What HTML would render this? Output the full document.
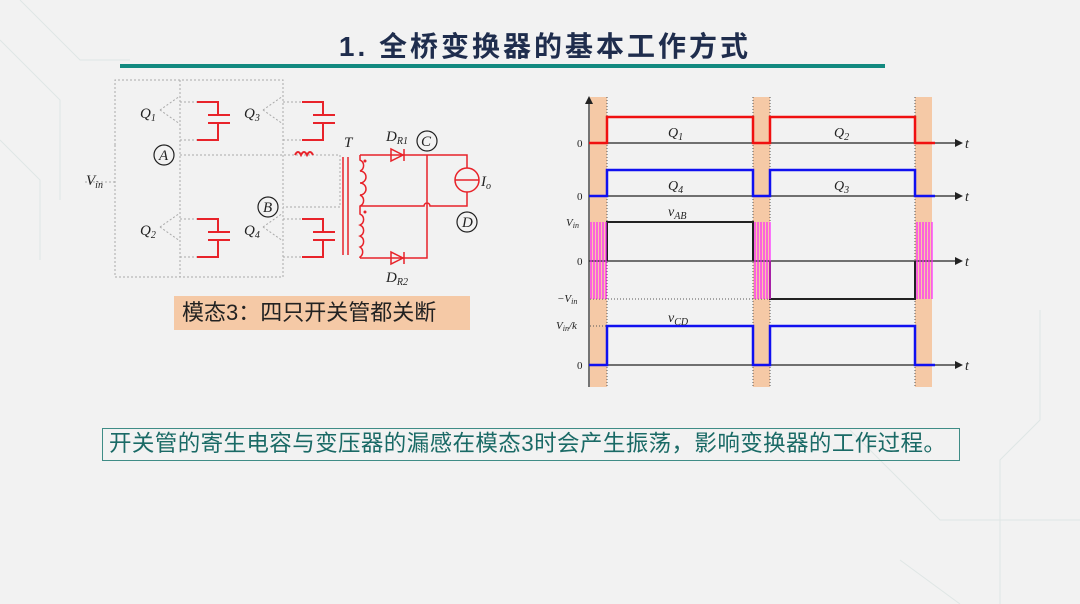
<!DOCTYPE html>
<html><head><meta charset="utf-8"><style>
html,body{margin:0;padding:0;}
body{width:1080px;height:604px;background:#f2f2f2;position:relative;overflow:hidden;font-family:"Liberation Sans","Noto Sans CJK SC",sans-serif;}
.title{position:absolute;left:120px;width:850px;top:28px;text-align:center;font-size:28px;font-weight:bold;color:#1f2d4d;letter-spacing:3px;line-height:38px;}
.tline{position:absolute;left:120px;top:64px;width:765px;height:4px;background:#138a80;}
.lbl{position:absolute;left:174px;top:296px;width:296px;height:34px;background:#f5c9a6;font-size:22px;color:#222;line-height:34px;padding-left:8px;box-sizing:border-box;}
.box{position:absolute;left:102px;top:428px;width:858px;height:33px;border:1px solid #3f8c86;box-sizing:border-box;font-size:22.5px;color:#1a6a66;line-height:30px;padding-left:6px;white-space:nowrap;letter-spacing:0.4px;}
svg{position:absolute;left:0;top:0;}
</style></head><body>
<div class="title">1. 全桥变换器的基本工作方式</div>
<div class="tline"></div>
<svg width="1080" height="604" font-family="Liberation Serif, serif" font-style="italic">
<g stroke="#dfe6e5" stroke-width="1" fill="none">
<path d="M0 40 L60 100 L60 200"/><path d="M20 0 L80 60 L130 60"/><path d="M0 140 L40 180 L40 260"/>
<path d="M1040 310 L1040 420 L1000 460 L1000 604"/><path d="M850 430 L940 520 L1080 520"/><path d="M900 560 L960 604"/>
</g>
<g stroke="#aaa" stroke-width="1" stroke-dasharray="2,2" fill="none">
<path d="M115 145 L115 277 L283 277 L283 145 L283 80 L115 80 Z"/>
<path d="M180 80 L180 277"/>
<path d="M180 155 L340 155 L340 207 L283 207"/>
<path d="M180 102 L197 102 M180 140 L197 140 M283 102 L302 102 M283 140 L302 140"/>
<path d="M180 219 L197 219 M180 257 L197 257 M283 219 L302 219 M283 257 L302 257"/>
<path d="M85 182 L115 182"/>
<path d="M160 110 L180 96 M160 110 L180 124 M263 110 L283 96 M263 110 L283 124 M160 227 L180 213 M160 227 L180 241 M263 227 L283 213 M263 227 L283 241"/>
</g>
<g stroke="#e8232a" stroke-width="2" fill="none">
<path id="cap" d="M197 102 L218 102 L218 115 M208 115 L230 115 M208 123 L230 123 M218 123 L218 140 L197 140"/>
<use href="#cap" x="105"/><use href="#cap" y="117"/><use href="#cap" x="105" y="117"/>
<path d="M295 155 q3 -6 6 0 q3 -6 6 0 q3 -6 6 0"/>
<line x1="343" y1="157" x2="343" y2="255" stroke-width="1.5"/><line x1="348" y1="157" x2="348" y2="255" stroke-width="1.5"/>
<path d="M360 155 L360 160 a6 6 0 0 1 0 11 a6 6 0 0 1 0 12 a6 6 0 0 1 0 12 a6 6 0 0 1 0 11 L360 214 a6 6 0 0 1 0 11 a6 6 0 0 1 0 11 a6 6 0 0 1 0 11 a6 6 0 0 1 0 10 L360 258" stroke-width="1.5"/>
<path d="M360 155 L467 155 L467 168 M467 192 L467 206 L430 206 a3 3 0 0 0 -6 0 L360 206 M360 258 L427 258 L427 155" stroke-width="1.5"/>
<circle cx="467" cy="180" r="12" stroke-width="1.5"/><line x1="455" y1="180" x2="479" y2="180" stroke-width="1.5"/>
<path d="M391 149 L391 161 L403 155 Z M404 149 L404 161" stroke-width="1.5"/>
<path d="M391 252 L391 264 L403 258 Z M404 252 L404 264" stroke-width="1.5"/>
</g>
<circle cx="365" cy="161" r="1.5" fill="#e8232a"/><circle cx="365" cy="212" r="1.5" fill="#e8232a"/>
<g fill="none" stroke="#222" stroke-width="1.2">
<circle cx="164" cy="155" r="10"/><circle cx="268" cy="207" r="10"/><circle cx="427" cy="141" r="10"/><circle cx="467" cy="222" r="10"/>
</g>
<g font-size="15" fill="#222">
<text x="159" y="160">A</text><text x="263" y="212">B</text><text x="421" y="146">C</text><text x="462" y="227">D</text>
<text x="140" y="118">Q<tspan font-size="10" dy="3">1</tspan></text>
<text x="244" y="118">Q<tspan font-size="10" dy="3">3</tspan></text>
<text x="140" y="235">Q<tspan font-size="10" dy="3">2</tspan></text>
<text x="244" y="235">Q<tspan font-size="10" dy="3">4</tspan></text>
<text x="86" y="185">V<tspan font-size="10" dy="3">in</tspan></text>
<text x="344" y="147">T</text>
<text x="386" y="141">D<tspan font-size="10" dy="3">R1</tspan></text>
<text x="386" y="282">D<tspan font-size="10" dy="3">R2</tspan></text>
<text x="481" y="186">I<tspan font-size="10" dy="3">o</tspan></text>
</g>
<g fill="#f5c9a6"><rect x="590" y="97" width="17" height="290"/><rect x="753" y="97" width="17" height="290"/><rect x="915" y="97" width="17" height="290"/></g>
<g stroke="#555" stroke-width="1" stroke-dasharray="1,2"><line x1="607" y1="97" x2="607" y2="387"/><line x1="753" y1="97" x2="753" y2="387"/><line x1="770" y1="97" x2="770" y2="387"/><line x1="915" y1="97" x2="915" y2="387"/>
<line x1="590" y1="299" x2="770" y2="299"/><line x1="590" y1="326" x2="607" y2="326"/></g>
<g stroke="#222" stroke-width="1.2"><line x1="589" y1="100" x2="589" y2="387"/>
<line x1="589" y1="143" x2="955" y2="143"/><line x1="589" y1="196" x2="955" y2="196"/><line x1="589" y1="261" x2="955" y2="261"/><line x1="589" y1="365" x2="955" y2="365"/></g>
<g fill="#222"><path d="M585 104 L589 96 L593 104Z"/><path d="M955 139 L963 143 L955 147Z"/><path d="M955 192 L963 196 L955 200Z"/><path d="M955 257 L963 261 L955 265Z"/><path d="M955 361 L963 365 L955 369Z"/></g>
<g fill="none" stroke-width="2.5">
<path d="M589 143 L607 143 L607 117 L753 117 L753 143 L770 143 L770 117 L915 117 L915 143 L935 143" stroke="#f01010"/>
<path d="M589 196 L607 196 L607 170 L753 170 L753 196 L770 196 L770 170 L915 170 L915 196 L935 196" stroke="#1010f0"/>
<path d="M589 365 L607 365 L607 326 L753 326 L753 365 L770 365 L770 326 L915 326 L915 365 L935 365" stroke="#1010f0"/>
<path d="M607 261 L607 222 L753 222 L753 261 M770 261 L770 299 L915 299 L915 261" stroke="#222" stroke-width="2"/>
</g>
<g stroke="#ff20ff" stroke-width="1.2">
<path d="M591 222 L591 299 M594 222 L594 299 M597 222 L597 299 M600 222 L600 299 M603 222 L603 299 M606 222 L606 299"/>
<path d="M755 222 L755 299 M758 222 L758 299 M761 222 L761 299 M764 222 L764 299 M767 222 L767 299 M770 222 L770 299"/>
<path d="M917 222 L917 299 M920 222 L920 299 M923 222 L923 299 M926 222 L926 299 M929 222 L929 299 M932 222 L932 299"/>
</g>
<g font-size="14" fill="#222">
<text x="668" y="137">Q<tspan font-size="10" dy="3">1</tspan></text><text x="834" y="137">Q<tspan font-size="10" dy="3">2</tspan></text>
<text x="668" y="190">Q<tspan font-size="10" dy="3">4</tspan></text><text x="834" y="190">Q<tspan font-size="10" dy="3">3</tspan></text>
<text x="668" y="216">v<tspan font-size="10" dy="3">AB</tspan></text><text x="668" y="322">v<tspan font-size="10" dy="3">CD</tspan></text>
<text x="965" y="148">t</text><text x="965" y="201">t</text><text x="965" y="266">t</text><text x="965" y="370">t</text>
</g>
<g font-size="11" fill="#222">
<text x="577" y="147" font-style="normal">0</text><text x="577" y="200" font-style="normal">0</text><text x="577" y="265" font-style="normal">0</text><text x="577" y="369" font-style="normal">0</text>
<text x="566" y="226">V<tspan font-size="8" dy="2">in</tspan></text>
<text x="557" y="302">−V<tspan font-size="8" dy="2">in</tspan></text>
<text x="556" y="329">V<tspan font-size="8" dy="2">in</tspan><tspan dy="-2">/k</tspan></text>
</g>
</svg>
<div class="lbl">模态3：四只开关管都关断</div>
<div class="box">开关管的寄生电容与变压器的漏感在模态3时会产生振荡，影响变换器的工作过程。</div>
</body></html>
